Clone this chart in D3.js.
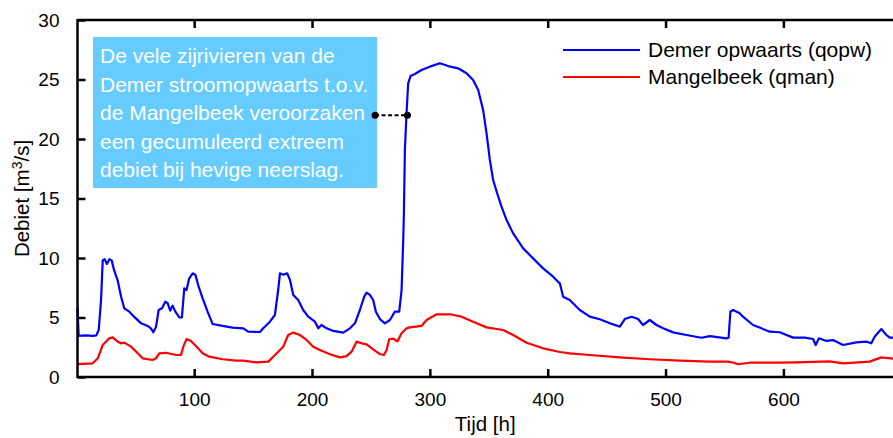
<!DOCTYPE html>
<html><head><meta charset="utf-8">
<script src="https://cdn.jsdelivr.net/npm/d3@7"></script>
<style>
html,body{margin:0;padding:0;background:#fff;}
svg{display:block;font-family:"Liberation Sans",Arial,sans-serif;}
</style></head>
<body><svg id="c" width="893" height="438"></svg>
<script>
// ---- data ----
const tQopw = [1,2,8,14,17,19,21,22.4,24,26,28,30,32,35,38,40.7,45,49,55,60.5,63.3,65.3,67.6,69.9,72.7,75.5,77.5,79.7,81.7,84,87.4,89.6,91.6,93.5,95.8,98.7,101,103.8,107.2,111.4,115.7,124,132.6,141.7,145.9,155.8,158.6,164.3,168.5,171.3,172.8,175.6,179,181.3,184.1,188.3,192.5,196.8,202.5,205.3,208,212.4,218,226.5,232.2,236.4,240.6,244.3,246.3,249.1,251.9,254.2,257.6,261.8,266.1,270.3,274,276,277.4,277.9,278.8,280.2,281.6,283.6,287.3,292.9,300,308.5,315.5,324,331.1,336.7,341,345.2,348.1,350.9,353.7,357.1,360.8,365.1,370.7,379.2,387.6,396.1,404.6,408.8,410.3,413.1,418.7,427.2,435.7,444.2,452.7,461.2,465.4,471.1,476.7,480.9,486.6,492.3,497.9,506.4,517.7,530.5,537.5,551.7,553.5,555,557.3,562.9,565.7,574.2,581.3,588.4,596.9,608.2,618.1,625.2,627.4,630.2,636.5,642.1,650.6,661.9,670.4,674.6,677.4,683.1,687.4,690.2,693];
const qopw = [5.8,3.45,3.5,3.45,3.5,3.95,6.5,9.8,9.9,9.5,9.9,9.8,9.0,8.15,6.75,5.77,5.49,5.07,4.51,4.29,4.09,3.76,4.2,5.63,5.77,6.33,6.2,5.57,6.0,5.49,5.01,5.0,7.45,7.3,8.29,8.71,8.6,7.59,6.61,5.49,4.45,4.29,4.15,4.09,3.81,3.78,4.09,4.65,5.21,7.31,8.71,8.6,8.71,8.15,6.89,6.47,5.63,5.07,4.65,4.09,4.37,4.09,3.87,3.73,4.09,4.51,5.63,6.75,7.09,6.9,6.47,5.49,4.87,4.51,4.79,5.49,5.49,7.31,11.5,13.47,19.08,22.16,24.68,25.29,25.46,25.8,26.08,26.36,26.13,25.94,25.52,24.96,24.12,22.44,20.48,18.24,16.55,15.44,14.31,13.19,12.07,10.81,9.97,9.13,8.43,8.01,7.87,6.75,6.47,5.63,5.07,4.85,4.51,4.23,4.87,5.07,4.87,4.37,4.79,4.37,4.09,3.75,3.53,3.30,3.44,3.25,3.3,5.49,5.63,5.35,5.07,4.37,4.09,3.81,3.76,3.31,3.31,3.19,2.69,3.25,3.03,3.1,2.69,2.91,2.97,2.83,3.39,4.03,3.53,3.31,3.31];
const tQman = [1,13.9,18.2,22.4,28,30.9,35.1,37.9,40.7,46.4,52.1,56.3,64.8,67.6,70.4,76.1,84.6,88.8,90.8,93.6,97.3,101.5,107.2,112.8,124.2,135.5,141.7,153,162.9,167.1,172.8,175.6,179.8,184.1,189.7,195.4,201,206.7,215.2,223.7,229.3,233.6,237.8,242.1,246.3,251.9,257.6,261,263.3,265.5,268.9,272.5,276,280.2,283,292.9,297.2,305.7,317,326.9,336.7,348.1,362.2,370.7,382,396.1,410.3,418.7,435.7,461.2,486.6,512.1,537.5,553,558,561.5,571.4,596.9,611,639.3,650.6,673.2,683.1,693];
const qman = [1.09,1.15,1.57,2.69,3.25,3.33,2.97,2.83,2.89,2.55,1.99,1.57,1.43,1.57,1.99,2.04,1.85,1.85,2.55,3.19,3.03,2.6,1.99,1.71,1.49,1.37,1.37,1.23,1.29,1.71,2.27,2.55,3.53,3.73,3.53,3.11,2.55,2.27,1.91,1.65,1.76,2.13,2.97,2.83,2.75,2.33,1.93,1.85,2.27,3.17,3.22,3.0,3.67,4.09,4.17,4.29,4.79,5.27,5.27,5.07,4.65,4.17,3.95,3.53,2.88,2.41,2.1,1.99,1.85,1.65,1.49,1.37,1.29,1.29,1.2,1.07,1.2,1.2,1.23,1.32,1.15,1.29,1.65,1.54];
const xTicks = [100,200,300,400,500,600];
const yTicks = [0,5,10,15,20,25,30];
const seriesNames = ["Demer opwaarts (qopw)","Mangelbeek (qman)"];
const seriesColors = ["#0000ff","#ff0000"];
const annotationLines = ["De vele zijrivieren van de","Demer stroomopwaarts t.o.v.","de Mangelbeek veroorzaken","een gecumuleerd extreem","debiet bij hevige neerslag."];
const annotationTarget = [281, 22];
const annotationAnchorT = 253.5;
const xLabel = "Tijd [h]";

// ---- chart ----
const svg = d3.select("#c");
const L = 77.5, R = 893, T = 20, B = 377;
const x = d3.scaleLinear().domain([1, 693]).range([L, R]);
const y = d3.scaleLinear().domain([0, 30]).range([B, T]);

// annotation box
const box = svg.append("g");
box.append("rect").attr("x", 93).attr("y", 37).attr("width", 284).attr("height", 151).attr("fill", "#66ccff");
annotationLines.forEach((s, i) => {
  box.append("text").attr("x", 100).attr("y", 63 + i * 28.5).attr("fill", "#fff")
    .attr("font-size", 21).text(s);
});

// lines
const mk = (ts, vs) => ts.map((t, i) => [t, vs[i]]);
const line = d3.line().x(d => x(d[0])).y(d => y(d[1]));
svg.append("path").datum(mk(tQman, qman)).attr("d", line).attr("fill", "none")
  .attr("stroke", seriesColors[1]).attr("stroke-width", 2.2).attr("stroke-linejoin", "round");
svg.append("path").datum(mk(tQopw, qopw)).attr("d", line).attr("fill", "none")
  .attr("stroke", seriesColors[0]).attr("stroke-width", 2.2).attr("stroke-linejoin", "round");

// connector
svg.append("line").attr("x1", x(annotationAnchorT)).attr("x2", x(annotationTarget[0]))
  .attr("y1", y(annotationTarget[1])).attr("y2", y(annotationTarget[1]))
  .attr("stroke", "#000").attr("stroke-width", 2).attr("stroke-dasharray", "4,2.5");
[annotationAnchorT, annotationTarget[0]].forEach(t => {
  svg.append("circle").attr("cx", x(t)).attr("cy", y(annotationTarget[1])).attr("r", 3.5).attr("fill", "#000");
});

// axes (inward ticks)
const gB = svg.append("g").attr("transform", `translate(0,${B})`)
  .call(d3.axisBottom(x).tickValues(xTicks).tickSizeInner(-8).tickSizeOuter(0).tickPadding(16));
const gT = svg.append("g").attr("transform", `translate(0,${T})`)
  .call(d3.axisTop(x).tickValues(xTicks).tickSizeInner(-8).tickSizeOuter(0).tickFormat(""));
const gL = svg.append("g").attr("transform", `translate(${L},0)`)
  .call(d3.axisLeft(y).tickValues(yTicks).tickSizeInner(-8).tickSizeOuter(0).tickPadding(18));
[gB, gT, gL].forEach(g => {
  g.select(".domain").attr("stroke", "#000").attr("stroke-width", 2.5);
  g.selectAll(".tick line").attr("stroke", "#000").attr("stroke-width", 2.5);
  g.selectAll("text").attr("font-size", 19).attr("fill", "#000").attr("font-family", "Liberation Sans, Arial, sans-serif");
});
gB.select(".domain").attr("d", `M${L},0H${R}`);
gT.select(".domain").attr("d", `M${L},0H${R}`);
gL.select(".domain").attr("d", `M0,${T-1}V${B+1}`);

// axis labels
svg.append("text").attr("x", (L + R) / 2).attr("y", 431).attr("text-anchor", "middle")
  .attr("font-size", 20.5).text(xLabel);
const yl = svg.append("text").attr("transform", `translate(29,${(T + B) / 2}) rotate(-90)`)
  .attr("text-anchor", "middle").attr("font-size", 20.5);
yl.append("tspan").text("Debiet [m");
yl.append("tspan").attr("dy", -7).attr("font-size", 14).text("3");
yl.append("tspan").attr("dy", 7).text("/s]");

// legend
seriesNames.forEach((n, i) => {
  const yy = 50 + i * 27;
  svg.append("line").attr("x1", 563).attr("x2", 640).attr("y1", yy).attr("y2", yy)
    .attr("stroke", seriesColors[i]).attr("stroke-width", 2.2);
  svg.append("text").attr("x", 648).attr("y", yy + 7).attr("font-size", 21).text(n);
});
</script></body></html>
